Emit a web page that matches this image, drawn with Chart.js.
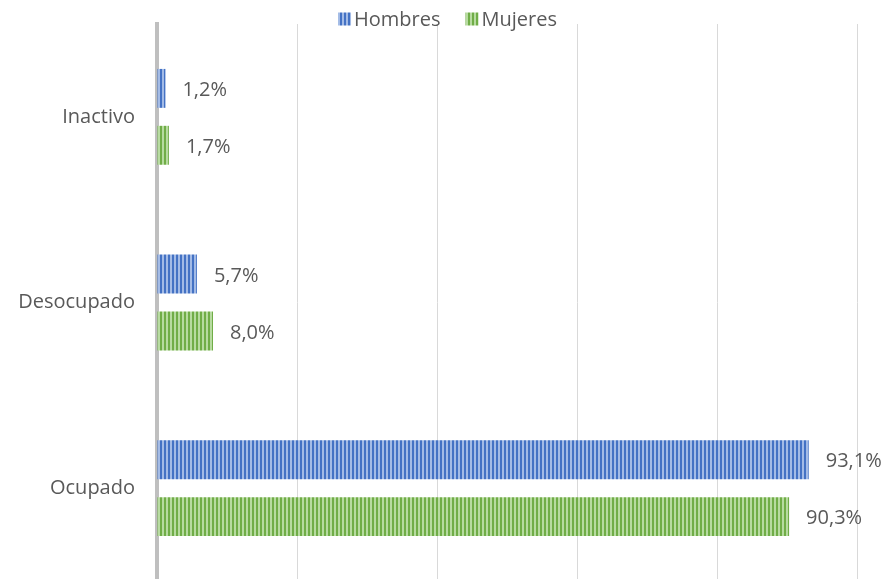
<!DOCTYPE html>
<html>
<head>
<meta charset="utf-8">
<script src="https://cdn.jsdelivr.net/npm/chart.js@4.4.0/dist/chart.umd.min.js"></script>
<style>
  html, body { margin: 0; padding: 0; background: #fff; overflow: hidden; }
  canvas { display: block; }
</style>
</head>
<body>
<canvas id="chart" width="887" height="581"></canvas>
<script>
const categories = ['Inactivo', 'Desocupado', 'Ocupado'];
const hombres = [1.2, 5.7, 93.1];
const mujeres = [1.7, 8.0, 90.3];
const seriesNames = ['Hombres', 'Mujeres'];

const FONT = '"Open Sans", sans-serif';
const TEXT = '#595959';

// vertical stripe fill like the Excel pattern
function stripes(dark, light) {
  const c = document.createElement('canvas');
  c.width = 4; c.height = 4;
  const ctx = c.getContext('2d');
  ctx.fillStyle = dark;
  ctx.fillRect(0, 0, 4, 4);
  ctx.fillStyle = light;
  ctx.fillRect(2, 0, 2, 4);
  return ctx.createPattern(c, 'repeat');
}

const valueLabels = {
  id: 'valueLabels',
  afterDatasetsDraw(chart) {
    const ctx = chart.ctx;
    ctx.save();
    ctx.font = '20px ' + FONT;
    ctx.fillStyle = TEXT;
    ctx.textBaseline = 'middle';
    ctx.textAlign = 'left';
    chart.data.datasets.forEach((ds, i) => {
      chart.getDatasetMeta(i).data.forEach((bar, j) => {
        const txt = ds.data[j].toFixed(1).replace('.', ',') + '%';
        ctx.fillText(txt, bar.x + 17, bar.y + 2);
      });
    });
    ctx.restore();
  }
};

// small legend at the top, spaced like the Excel one
const topLegend = {
  id: 'topLegend',
  afterDraw(chart) {
    const ctx = chart.ctx;
    const box = 13, gapText = 3, gapItem = 25, cy = 19;
    ctx.save();
    ctx.font = '20px ' + FONT;
    ctx.textBaseline = 'middle';
    const items = chart.data.datasets.map(ds => ({
      ds, w: box + gapText + ctx.measureText(ds.label).width
    }));
    const total = items.reduce((s, it) => s + it.w, 0) + gapItem * (items.length - 1);
    let x = chart.width / 2 + 4 - total / 2;
    items.forEach(it => {
      ctx.fillStyle = it.ds.backgroundColor;
      ctx.fillRect(x, cy - box / 2, box, box);
      ctx.fillStyle = TEXT;
      ctx.fillText(it.ds.label, x + box + gapText, cy + 1);
      x += it.w + gapItem;
    });
    ctx.restore();
  }
};

new Chart(document.getElementById('chart'), {
  type: 'bar',
  data: {
    labels: categories,
    datasets: [
      {
        label: seriesNames[0],
        data: hombres,
        backgroundColor: stripes('#4472C4', '#a3bbe6'),
        borderWidth: 0
      },
      {
        label: seriesNames[1],
        data: mujeres,
        backgroundColor: stripes('#70AD47', '#b7dba0'),
        borderWidth: 0
      }
    ]
  },
  options: {
    indexAxis: 'y',
    responsive: false,
    animation: false,
    categoryPercentage: 0.613,
    barPercentage: 0.684,
    layout: { padding: { left: 0, right: 30, top: 24, bottom: 0 } },
    plugins: {
      legend: { display: false },
      tooltip: { enabled: false }
    },
    scales: {
      x: {
        min: 0,
        max: 100,
        afterFit(scale) { scale.height = 0; },
        ticks: { display: false, stepSize: 20 },
        grid: { color: '#d9d9d9', drawTicks: false },
        border: { display: false }
      },
      y: {
        afterFit(scale) {
          scale.width = 157;
          scale.paddingTop = 0;
          scale.paddingBottom = 0;
        },
        ticks: { font: { family: FONT, size: 20 }, color: TEXT, padding: 22 },
        grid: { display: false, drawTicks: false },
        border: { color: '#bfbfbf', width: 4 }
      }
    }
  },
  plugins: [valueLabels, topLegend]
});
</script>
</body>
</html>
